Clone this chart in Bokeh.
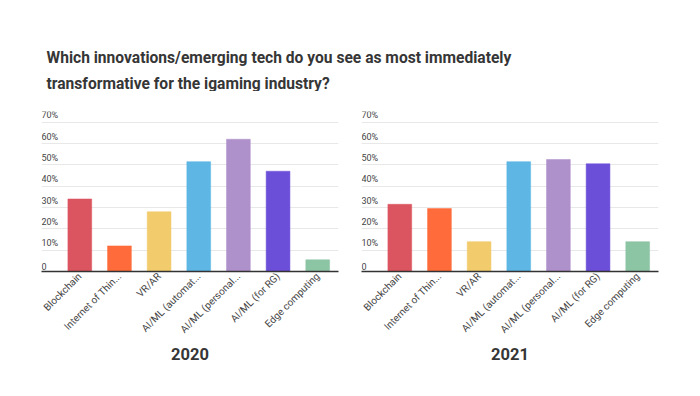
from math import pi
from bokeh.plotting import figure
from bokeh.layouts import column, row
from bokeh.models import Range1d, Grid, FixedTicker, ColumnDataSource
from bokeh.core.properties import value
from bokeh.embed import file_html
from bokeh.resources import INLINE

title_lines = ["Which innovations/emerging tech do you see as most immediately",
               "transformative for the igaming industry?"]
categories = ["Blockchain", "Internet of Thin...", "VR/AR", "AI/ML (automat...",
              "AI/ML (personal...", "AI/ML (for RG)", "Edge computing"]
colors = ["#DB5560", "#FF6B3A", "#F2CB6C", "#5DB6E4", "#AE90CA", "#6C4FD9", "#8CC5A4"]
values_2020 = [34, 12, 28, 51.5, 62, 47, 5.5]
values_2021 = [31.5, 29.5, 14, 51.5, 52.5, 50.5, 14]
years = ["2020", "2021"]
yticks = [0, 10, 20, 30, 40, 50, 60, 70]
ytick_labels = ["0", "10%", "20%", "30%", "40%", "50%", "60%", "70%"]

FONT = "Roboto"
TXT = "#444444"

# title figure
TH = 91
tfig = figure(width=684, height=TH, x_range=Range1d(0, 684), y_range=Range1d(0, TH),
              output_backend="svg", toolbar_location=None,
              x_axis_location=None, y_axis_location=None, min_border=0)
tfig.outline_line_color = None
for g in tfig.grid:
    g.visible = False
tsrc = ColumnDataSource(dict(x=[46, 46], y=[TH - 57.3, TH - 83], t=title_lines))
tfig.text(x="x", y="y", text="t", source=tsrc, text_font=value(FONT),
          text_font_size="15.6px", text_font_style="bold", text_color="#363636",
          text_baseline="alphabetic", text_align="left")


def make_chart(vals, year, width, left, right):
    n = len(categories)
    xs = list(range(n))
    step = 39.65
    xstart = -(80.3 - 42) / step
    xend = xstart + 297 / step
    p = figure(width=width, height=296, x_range=Range1d(xstart, xend), y_range=Range1d(0, 75),
               output_backend="svg", toolbar_location=None, y_axis_location=None,
               min_border_left=left, min_border_right=right, min_border_top=20,
               min_border_bottom=116)
    p.outline_line_color = None
    for g in p.grid:
        g.visible = False
    p.add_layout(Grid(dimension=1, ticker=FixedTicker(ticks=yticks),
                      grid_line_color="#e8e8e8", grid_line_width=1), "center")
    src = ColumnDataSource(dict(x=xs, top=vals, c=colors))
    p.vbar(x="x", top="top", width=0.6, bottom=0, source=src, fill_color="c",
           line_color="c", line_width=0.5)
    lsrc = ColumnDataSource(dict(x=[xstart] * len(yticks), y=yticks, t=ytick_labels))
    p.text(x="x", y="y", text="t", source=lsrc, text_font=value(FONT), text_font_size="9px",
           text_color=TXT, text_baseline="bottom", text_align="left", y_offset=-2)
    ax = p.xaxis[0]
    ax.ticker = FixedTicker(ticks=xs)
    ax.major_label_overrides = {i: c for i, c in enumerate(categories)}
    ax.major_label_orientation = pi / 4
    ax.major_label_text_font = FONT
    ax.major_label_text_font_size = "10px"
    ax.major_label_text_color = TXT
    ax.major_label_standoff = 3
    ax.major_tick_line_color = None
    ax.minor_tick_line_color = None
    ax.major_tick_out = 0
    ax.major_tick_in = 0
    ax.axis_line_color = "#333333"
    ax.axis_line_width = 1.5
    ax.axis_label = year
    ax.axis_label_text_font = FONT
    ax.axis_label_text_font_size = "16.5px"
    ax.axis_label_text_font_style = "bold"
    ax.axis_label_text_color = "#363636"
    ax.axis_label_standoff = 6
    return p


f1 = make_chart(values_2020, years[0], 343, 41, 5)
f2 = make_chart(values_2021, years[1], 348, 18, 33)

layout = column(tfig, row(f1, f2))
open("out.html", "w").write(file_html(layout, INLINE))
